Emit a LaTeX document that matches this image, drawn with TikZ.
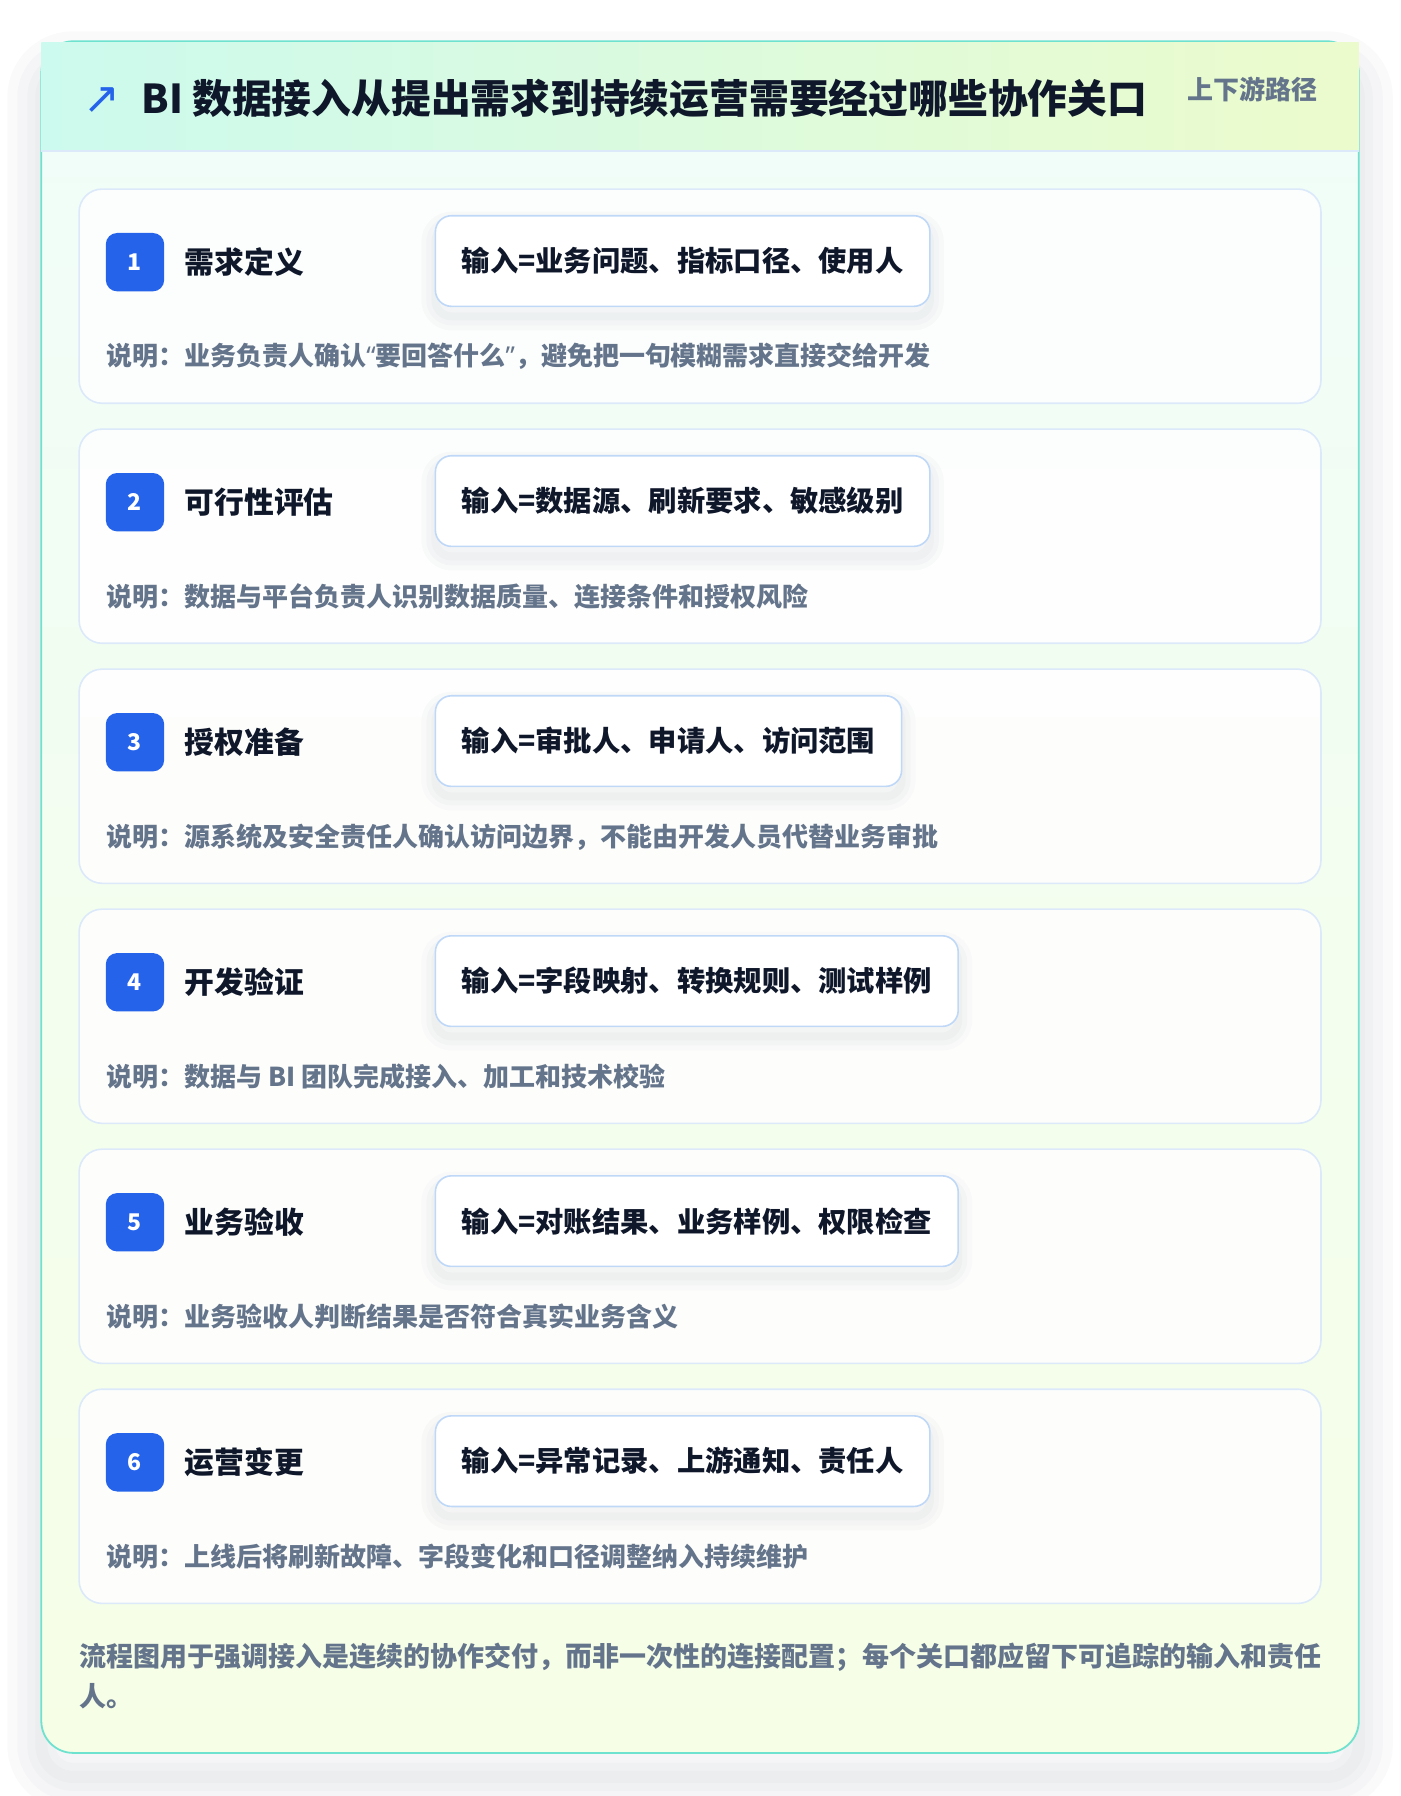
\documentclass[tikz,border=0pt]{standalone}
\usepackage{fontspec}
\setmainfont{Noto Sans CJK SC}
\newfontfamily\symfont{DejaVu Sans}
\newfontfamily\latinfont{Noto Sans}
\usepackage{xcolor}
\usepackage{tikz}
\usetikzlibrary{calc}
\usetikzlibrary{positioning}

\definecolor{ink}{HTML}{0F172A}
\definecolor{muted}{HTML}{64748B}
\definecolor{badgeblue}{HTML}{2563EB}
\definecolor{tealline}{HTML}{6EE2CF}
\definecolor{mintleft}{HTML}{CCFAEE}
\definecolor{limeright}{HTML}{ECFBCC}
\definecolor{bodytop}{HTML}{F0FDF9}
\definecolor{bodybot}{HTML}{F6FEE6}
\definecolor{cardline}{HTML}{DCE9FB}
\definecolor{boxline}{HTML}{BFD8F8}
\definecolor{shade}{HTML}{1E2A40}

\newcommand{\openq}{{\latinfont “}}
\newcommand{\closeq}{{\latinfont ”}}

\begin{document}
\begin{tikzpicture}[x=0.5729pt,y=-0.5729pt,node distance=9.7pt,semithick]
 \tikzstyle{panel}=[draw=tealline, line width=0.9pt, rounded corners=16pt, top color=bodytop, bottom color=bodybot,
   minimum width=658.8pt, minimum height=855.9pt, inner sep=0pt,
   preaction={draw=shade, draw opacity=0.02, line width=34pt, transform canvas={yshift=-12pt}},
   preaction={draw=shade, draw opacity=0.02, line width=24pt, transform canvas={yshift=-12pt}},
   preaction={draw=shade, draw opacity=0.02, line width=14pt, transform canvas={yshift=-12pt}},
   preaction={draw=shade, draw opacity=0.02, line width=6pt, transform canvas={yshift=-12pt}}]
 \tikzstyle{headband}=[left color=mintleft, right color=limeright, minimum width=658.8pt, minimum height=53.6pt, inner sep=0pt]
 \tikzstyle{stepcard}=[draw=cardline, line width=0.8pt, fill=white, fill opacity=0.85, rounded corners=11.5pt,
   minimum width=621pt, minimum height=107.1pt, inner sep=0pt]
 \tikzstyle{badge}=[fill=badgeblue, rounded corners=5.7pt, minimum size=29.2pt, inner sep=0pt, text=white,
   font=\bfseries\fontsize{11.5}{11.5}\selectfont]
 \tikzstyle{steptitle}=[inner sep=0pt, text=ink, font=\bfseries\fontsize{14.9}{15}\selectfont]
 \tikzstyle{inbox}=[anchor=west, draw=boxline, line width=0.8pt, fill=white, rounded corners=8pt, minimum height=45.3pt,
   inner xsep=13.2pt, inner ysep=0pt, text=ink, font=\bfseries\fontsize{14.15}{15}\selectfont,
   preaction={draw=shade, draw opacity=0.018, line width=14pt, transform canvas={yshift=-5pt}},
   preaction={draw=shade, draw opacity=0.018, line width=9pt, transform canvas={yshift=-5pt}},
   preaction={draw=shade, draw opacity=0.018, line width=4pt, transform canvas={yshift=-5pt}}]
 \tikzstyle{note}=[anchor=west, inner sep=0pt, text=muted, font=\bfseries\fontsize{13}{13}\selectfont]

 \useasboundingbox (0,0) rectangle (1222,1567.6);
 \fill[white] (0,0) rectangle (1222,1567.6);

 % frame and header
 \node[panel] (panel) at (611,783) {};
 \node[headband] (head) at (611,84.25) {};
 \draw[cardline, line width=1pt] (head.south west) -- (head.south east);
 \node[text=badgeblue, inner sep=0pt, font=\symfont\fontsize{22}{22}\selectfont] (arrow) at (89,88) {↗};
 \node[anchor=west, inner sep=0pt, text=ink, font=\bfseries\fontsize{19.9}{20}\selectfont] (title) at (123,86)
   {BI 数据接入从提出需求到持续运营需要经过哪些协作关口};
 \node[inner sep=0pt, text=muted, font=\bfseries\fontsize{13}{13}\selectfont] (route) at (1093,78) {上下游路径};

 % step 1
 \node[stepcard] (s1) at (611,258.5) {};
 \node[badge] (b1) at ($(s1.north west)+(49.5,64.5)$) {1};
 \node[steptitle, right=of b1] (t1) {需求定义};
 \node[inbox] (i1) at ($(s1.north west)+(311,63.5)$) {输入=业务问题、指标口径、使用人};
 \node[note] (n1) at ($(s1.north west)+(24,147)$) {说明：业务负责人确认\openq 要回答什么\closeq ，避免把一句模糊需求直接交给开发};

 % step 2
 \node[stepcard] (s2) at (611,468) {};
 \node[badge] (b2) at ($(s2.north west)+(49.5,64.5)$) {2};
 \node[steptitle, right=of b2] (t2) {可行性评估};
 \node[inbox] (i2) at ($(s2.north west)+(311,63.5)$) {输入=数据源、刷新要求、敏感级别};
 \node[note] (n2) at ($(s2.north west)+(24,147)$) {说明：数据与平台负责人识别数据质量、连接条件和授权风险};

 % step 3
 \node[stepcard] (s3) at (611,677.5) {};
 \node[badge] (b3) at ($(s3.north west)+(49.5,64.5)$) {3};
 \node[steptitle, right=of b3] (t3) {授权准备};
 \node[inbox] (i3) at ($(s3.north west)+(311,63.5)$) {输入=审批人、申请人、访问范围};
 \node[note] (n3) at ($(s3.north west)+(24,147)$) {说明：源系统及安全责任人确认访问边界，不能由开发人员代替业务审批};

 % step 4
 \node[stepcard] (s4) at (611,887) {};
 \node[badge] (b4) at ($(s4.north west)+(49.5,64.5)$) {4};
 \node[steptitle, right=of b4] (t4) {开发验证};
 \node[inbox] (i4) at ($(s4.north west)+(311,63.5)$) {输入=字段映射、转换规则、测试样例};
 \node[note] (n4) at ($(s4.north west)+(24,147)$) {说明：数据与 BI 团队完成接入、加工和技术校验};

 % step 5
 \node[stepcard] (s5) at (611,1096.5) {};
 \node[badge] (b5) at ($(s5.north west)+(49.5,64.5)$) {5};
 \node[steptitle, right=of b5] (t5) {业务验收};
 \node[inbox] (i5) at ($(s5.north west)+(311,63.5)$) {输入=对账结果、业务样例、权限检查};
 \node[note] (n5) at ($(s5.north west)+(24,147)$) {说明：业务验收人判断结果是否符合真实业务含义};

 % step 6
 \node[stepcard] (s6) at (611,1306) {};
 \node[badge] (b6) at ($(s6.north west)+(49.5,64.5)$) {6};
 \node[steptitle, right=of b6] (t6) {运营变更};
 \node[inbox] (i6) at ($(s6.north west)+(311,63.5)$) {输入=异常记录、上游通知、责任人};
 \node[note] (n6) at ($(s6.north west)+(24,147)$) {说明：上线后将刷新故障、字段变化和口径调整纳入持续维护};

 % closing remark
 \node[anchor=west, inner sep=0pt, align=left, text=muted, font=\bfseries\fontsize{13.5}{20}\selectfont] (foot) at (69,1462.5)
   {流程图用于强调接入是连续的协作交付，而非一次性的连接配置；每个关口都应留下可追踪的输入和责任\\人。};
\end{tikzpicture}
\end{document}
